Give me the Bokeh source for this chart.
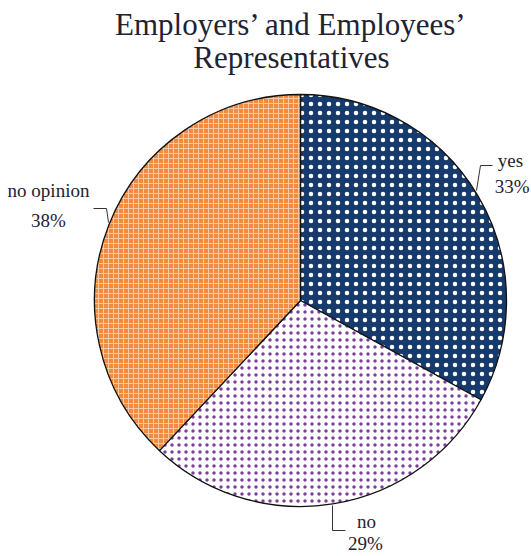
import numpy as np
from bokeh.plotting import figure
from bokeh.models import Range1d
from bokeh.core.properties import value
from bokeh.embed import file_html
from bokeh.resources import INLINE

# ---- data ----
categories = ["yes", "no", "no opinion"]
values = [33, 29, 38]
pct_labels = ["33%", "29%", "38%"]
title_lines = ["Employers\u2019 and Employees\u2019", "Representatives"]

# ---- styles ----
fill_colors = ["#173a6c", "#ffffff", "#f28b3e"]
hatch_patterns = ["dot", "dot", "cross"]
hatch_colors = ["#ffffff", "#7b3f9c", "#fbc9a0"]
hatch_scales = [9, 7, 5]
hatch_weights = [1.6, 1.5, 1.0]

W, H = 531, 556
p = figure(width=W, height=H, output_backend="svg", toolbar_location=None,
           x_range=Range1d(0, W), y_range=Range1d(0, H), min_border=0)
p.axis.visible = False
p.grid.visible = False
p.outline_line_color = None
p.background_fill_color = "white"

cx, cy, r = 300, H - 300, 206
vals = np.array(values, dtype=float)
frac = vals / vals.sum()
ends = np.cumsum(frac) * 2 * np.pi
starts = ends - frac * 2 * np.pi
start_angle = np.pi / 2 - starts
end_angle = np.pi / 2 - ends

for i in range(len(values)):
    p.wedge(x=cx, y=cy, radius=r, start_angle=start_angle[i], end_angle=end_angle[i],
            direction="clock", fill_color=fill_colors[i], line_color="#111111", line_width=1.3,
            hatch_pattern=hatch_patterns[i], hatch_color=hatch_colors[i],
            hatch_scale=hatch_scales[i], hatch_weight=hatch_weights[i])

# leader lines (screen coords, y down)
leaders = [
    [(476, 190), (480, 165), (492, 165)],
    [(332, 505), (332, 530), (345, 530)],
    [(108, 222), (106, 208), (93, 208)],
]
for pts in leaders:
    p.line([a for a, b in pts], [H - b for a, b in pts], line_color="#333333", line_width=1)

# label positions: (x1, y1, align1, x2, y2, align2) in screen coords
label_pos = [(510, 160, "center", 529, 186, "right"),
             (366, 521, "center", 365, 543, "center"),
             (48, 190, "center", 48, 220, "center")]
for (x1, y1, a1, x2, y2, a2), c, pc in zip(label_pos, categories, pct_labels):
    p.text([x1], [H - y1], text=[c], text_font=value("Liberation Serif"), text_font_size="19px",
           text_align=a1, text_baseline="middle", text_color="#222233")
    p.text([x2], [H - y2], text=[pc], text_font=value("Liberation Serif"), text_font_size="19px",
           text_align=a2, text_baseline="middle", text_color="#222233")

for i, t in enumerate(title_lines):
    p.text([291], [H - (24 + 33 * i)], text=[t], text_font=value("Liberation Serif"),
           text_font_size="31px", text_align="center", text_baseline="middle",
           text_color="#222233")

open("out.html", "w").write(file_html(p, INLINE))
